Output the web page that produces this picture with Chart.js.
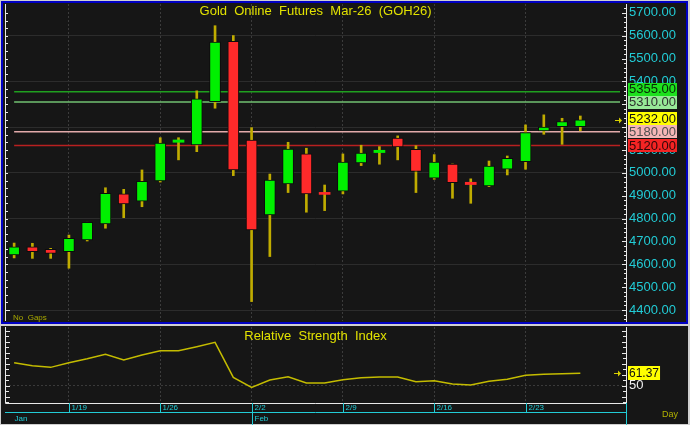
<!DOCTYPE html>
<html>
<head>
<meta charset="utf-8">
<script src="https://cdn.jsdelivr.net/npm/chart.js@4.4.1/dist/chart.umd.min.js"></script>
<style>
  html, body { margin: 0; padding: 0; background: #cfcfcf; }
  body { width: 690px; height: 425px; position: relative; overflow: hidden; }
  .panel { position: absolute; background: #161616; box-sizing: border-box; }
  #top { left: 1px; top: 1px; width: 687px; height: 323px; border: 2px solid #0000c4; }
  #bottom { left: 1px; top: 326px; width: 687px; height: 98px; }
  canvas { position: absolute; left: 0; }
</style>
</head>
<body>
<div class="panel" id="top"></div>
<div class="panel" id="bottom"></div>
<canvas id="priceChart" width="690" height="325" style="top:0"></canvas>
<canvas id="rsiChart" width="690" height="99" style="top:326px"></canvas>
<script>
const dates = ['1/14','1/15','1/16','1/19','1/20','1/21','1/22','1/23','1/26','1/27','1/28','1/29','1/30',
  '2/2','2/3','2/4','2/5','2/6','2/9','2/10','2/11','2/12','2/13','2/16','2/17','2/18','2/19','2/20',
  '2/23','2/24','2/25','2/26'];
const weekStarts = ['1/19','1/26','2/2','2/9','2/16','2/23'];
const months = ['Jan','Feb'];
const monthStarts = ['1/14','2/2'];

const open  = [4641,4677,4666,4655,4707,4777,4908,4876,4965,5134,5122,5312,5576,5144,4816,4952,5083,4910,4920,5044,5089,5152,5103,4977,5039,4959,4943,5016,5049,5184,5202,5202];
const high  = [4693,4692,4670,4728,4784,4935,4928,5013,5154,5154,5359,5644,5601,5198,4995,5134,5108,4947,5083,5121,5115,5162,5119,5080,5039,4974,5052,5074,5210,5254,5239,5249];
const low   = [4628,4626,4626,4583,4702,4758,4804,4852,4960,5057,5093,5283,4988,4437,4634,4914,4828,4835,4908,5032,5038,5057,4914,4972,4889,4867,4940,4991,5016,5169,5125,5184];
const close = [4677,4655,4648,4714,4784,4911,4864,4963,5130,5144,5324,5572,5013,4750,4969,5104,4908,4906,5047,5087,5099,5114,5006,5047,4957,4949,5030,5064,5176,5200,5224,5232];

const rsi = [70.9,68.2,66.7,70.9,74.5,78.5,73.4,77.9,81.8,81.8,85.5,89.5,57.6,48.5,55.2,58.2,52.5,52.5,55.5,
  57.3,57.9,57.9,53.6,54.5,51.5,50.6,54.0,55.8,59.5,60.4,60.9,61.37];

const priceTicks = [4400,4500,4600,4700,4800,4900,5000,5100,5200,5300,5400,5500,5600,5700];
const levels = [5355, 5310, 5180, 5120];
const lastPrice = 5232;
const rsiTicks = [50];
const lastRsi = 61.37;

// styles
const FONT = '"Liberation Sans", Arial, sans-serif';
const levelLine = ['#1f9f1f', '#72c272', '#e2aaaa', '#b82020'];
const levelTag = [['#1ee01e', '#062806'], ['#98e898', '#303030'], ['#f4b6b6', '#505050'], ['#f42424', '#300808']];
const UP = '#00f000', DOWN = '#ff2a2a', WICK = '#c0ac00', CYAN = '#22ccd6';

// two empty slots on the right, like the reference
const slots = dates.concat(['', '']);
const isUp = i => close[i] >= open[i];

function gridColor(ctx) {
  return weekStarts.includes(slots[ctx.index]) ? '#3c3c3c' : 'transparent';
}

// keep the chart area where the reference has it
function fixWidth(s) {
  s.width = 64;
  s.paddingTop = 0;
  s.paddingBottom = 0;
}

function tag(ctx, x, y, text, bg, fg) {
  ctx.font = '13px ' + FONT;
  const w = ctx.measureText(text).width + 2;
  ctx.fillStyle = bg;
  ctx.fillRect(x, Math.round(y - 6.5), w, 13);
  ctx.fillStyle = fg;
  ctx.textAlign = 'left';
  ctx.textBaseline = 'middle';
  ctx.fillText(text, x + 1, y + 0.5);
}

function arrow(ctx, x, y) {
  ctx.strokeStyle = '#d8d000';
  ctx.fillStyle = '#d8d000';
  ctx.lineWidth = 1;
  ctx.beginPath(); ctx.moveTo(x - 5, y + 0.5); ctx.lineTo(x, y + 0.5); ctx.stroke();
  ctx.beginPath(); ctx.moveTo(x + 2, y + 0.5); ctx.lineTo(x - 1, y - 2.5); ctx.lineTo(x - 1, y + 3.5); ctx.fill();
}

function sideTicks(ctx, scale, x, dir, from, to, step, major, big, small) {
  ctx.strokeStyle = '#e8e8e8';
  ctx.lineWidth = 1;
  ctx.beginPath();
  for (let v = from; v <= to + 0.001; v += step) {
    const y = Math.round(scale.getPixelForValue(v)) + 0.5;
    const len = Math.abs(v % major) < 0.01 ? big : small;
    ctx.moveTo(x, y); ctx.lineTo(x + dir * len, y);
  }
  ctx.stroke();
}

const pricePlugin = {
  id: 'pricePlugin',
  beforeDatasetsDraw(chart) {
    const { ctx, chartArea, scales } = chart;
    const x0 = scales.x.getPixelForValue(0);
    levels.forEach((v, i) => {
      const y = scales.y.getPixelForValue(v);
      ctx.strokeStyle = levelLine[i];
      ctx.lineWidth = 1.5;
      ctx.beginPath(); ctx.moveTo(x0, y); ctx.lineTo(chartArea.right - 6, y); ctx.stroke();
    });
  },
  afterDraw(chart) {
    const { ctx, chartArea, scales } = chart;
    const y = scales.y;
    ctx.save();
    // left frame line with ticks
    ctx.strokeStyle = '#e8e8e8';
    ctx.lineWidth = 1;
    ctx.beginPath(); ctx.moveTo(chartArea.left + 0.5, chartArea.top); ctx.lineTo(chartArea.left + 0.5, chartArea.bottom); ctx.stroke();
    sideTicks(ctx, y, chartArea.left + 1, 1, 4400, 5700, 100 / 3, 100, 4, 2);
    sideTicks(ctx, y, chartArea.right, -1, 4360, 5720, 20, 100, 4, 2);

    // title and footnote
    ctx.fillStyle = '#e2e200';
    ctx.font = '13px ' + FONT;
    ctx.textAlign = 'center';
    ctx.textBaseline = 'middle';
    ctx.fillText('Gold  Online  Futures  Mar-26  (GOH26)', (chartArea.left + chartArea.right) / 2, 11);
    ctx.fillStyle = '#a8a800';
    ctx.font = '8px ' + FONT;
    ctx.textAlign = 'left';
    ctx.fillText('No  Gaps', 13, 318);

    // price tags on the axis, stacked so they do not overlap
    const tags = levels.map((v, i) => ({ v, bg: levelTag[i][0], fg: levelTag[i][1] }));
    tags.push({ v: lastPrice, bg: '#ffff00', fg: '#101010' });
    tags.sort((a, b) => a.v - b.v);
    let prev = Infinity;
    tags.forEach(t => {
      let py = Math.min(y.getPixelForValue(t.v), prev - 13);
      prev = py;
      tag(ctx, chartArea.right + 2, py, t.v.toFixed(2), t.bg, t.fg);
    });
    arrow(ctx, chartArea.right - 6, Math.round(y.getPixelForValue(lastPrice)));
    ctx.restore();
  }
};

new Chart(document.getElementById('priceChart'), {
  type: 'bar',
  data: {
    labels: slots,
    datasets: [
      {
        label: 'body',
        data: dates.map((d, i) => [open[i], close[i]]),
        backgroundColor: c => isUp(c.dataIndex) ? UP : DOWN,
        borderColor: '#0c0c0c',
        borderWidth: c => Math.abs(close[c.dataIndex] - open[c.dataIndex]) < 15 ? 0 : 1,
        barThickness: 11,
        minBarLength: 2,
        grouped: false,
        borderSkipped: false,
        order: 0
      },
      {
        label: 'wick',
        data: dates.map((d, i) => [low[i], high[i]]),
        backgroundColor: WICK,
        barThickness: 2,
        grouped: false,
        borderSkipped: false,
        order: 1
      }
    ]
  },
  options: {
    responsive: false,
    animation: false,
    layout: { padding: { left: 5, top: 4, bottom: 4, right: 0 } },
    plugins: { legend: { display: false }, tooltip: { enabled: false } },
    scales: {
      x: {
        ticks: { display: false },
        grid: { offset: false, drawTicks: false, color: gridColor },
        border: { display: false, dash: [2, 2] },
        afterFit: s => { s.height = 0; }
      },
      y: {
        position: 'right',
        min: 4352,
        max: 5739,
        afterBuildTicks: s => { s.ticks = priceTicks.map(v => ({ value: v })); },
        afterFit: fixWidth,
        ticks: { color: CYAN, font: { family: FONT, size: 13 }, padding: 3, callback: v => v.toFixed(2) },
        grid: { drawTicks: false, color: c => c.tick && c.tick.value % 200 === 0 ? '#2c2c2c' : 'transparent' },
        border: { color: '#e8e8e8' }
      }
    }
  },
  plugins: [pricePlugin]
});

const rsiPlugin = {
  id: 'rsiPlugin',
  afterDraw(chart) {
    const { ctx, chartArea, scales } = chart;
    const L = chartArea.left, R = chartArea.right, B = chartArea.bottom;
    ctx.save();
    ctx.strokeStyle = '#e8e8e8';
    ctx.lineWidth = 1;
    ctx.beginPath();
    ctx.moveTo(L + 0.5, chartArea.top); ctx.lineTo(L + 0.5, B + 0.5); ctx.lineTo(R, B + 0.5);
    ctx.stroke();
    sideTicks(ctx, scales.y, L + 1, 1, 35, 100, 5, 10, 4, 3);
    sideTicks(ctx, scales.y, R, -1, 35, 100, 5, 10, 4, 3);

    ctx.fillStyle = '#e2e200';
    ctx.font = '13px ' + FONT;
    ctx.textAlign = 'center';
    ctx.textBaseline = 'middle';
    ctx.fillText('Relative  Strength  Index', (L + R) / 2, 10);

    // last value tag
    const ly = Math.round(scales.y.getPixelForValue(lastRsi));
    ctx.font = '12px ' + FONT;
    const w = ctx.measureText(lastRsi.toFixed(2)).width;
    ctx.fillStyle = '#ffff00';
    ctx.fillRect(R + 2, ly - 7, w + 2, 14);
    ctx.fillStyle = '#101010';
    ctx.textAlign = 'left';
    ctx.fillText(lastRsi.toFixed(2), R + 3, ly + 0.5);
    arrow(ctx, R - 7, ly);

    // date axis
    const axisY = B + 9.5;
    ctx.strokeStyle = CYAN;
    ctx.beginPath();
    ctx.moveTo(L, axisY); ctx.lineTo(R, axisY);
    ctx.moveTo(R + 0.5, B); ctx.lineTo(R + 0.5, chart.height);
    ctx.stroke();
    ctx.font = '8px ' + FONT;
    ctx.fillStyle = CYAN;
    weekStarts.forEach(d => {
      const x = Math.round(scales.x.getPixelForValue(dates.indexOf(d))) + 0.5;
      ctx.beginPath(); ctx.moveTo(x, B); ctx.lineTo(x, axisY); ctx.stroke();
      ctx.fillText(d, x + 2, B + 5);
    });
    months.forEach((m, i) => {
      const idx = dates.indexOf(monthStarts[i]);
      const x = Math.round(scales.x.getPixelForValue(idx)) + 0.5;
      if (idx > 0) {
        ctx.beginPath(); ctx.moveTo(x, axisY); ctx.lineTo(x, chart.height); ctx.stroke();
      }
      ctx.fillText(m, x + (idx > 0 ? 2 : 0), B + 16);
    });
    ctx.fillStyle = '#b0b000';
    ctx.font = '9px ' + FONT;
    ctx.fillText('Day', 662, B + 12);
    ctx.restore();
  }
};

new Chart(document.getElementById('rsiChart'), {
  type: 'line',
  data: {
    labels: slots,
    datasets: [{ label: 'RSI', data: rsi, borderColor: '#c4bc00', borderWidth: 1.5, pointRadius: 0, tension: 0 }]
  },
  options: {
    responsive: false,
    animation: false,
    layout: { padding: { left: 5, top: 1, bottom: 22, right: 0 } },
    plugins: { legend: { display: false }, tooltip: { enabled: false } },
    scales: {
      x: {
        offset: true,
        ticks: { display: false },
        grid: { offset: false, drawTicks: false, color: gridColor },
        border: { display: false, dash: [2, 2] },
        afterFit: s => { s.height = 0; }
      },
      y: {
        position: 'right',
        min: 34.3,
        max: 103.4,
        afterBuildTicks: s => { s.ticks = rsiTicks.map(v => ({ value: v })); },
        afterFit: fixWidth,
        ticks: { color: '#f0f0f0', font: { family: FONT, size: 13 }, padding: 3 },
        grid: { drawTicks: false, color: '#3a3a3a' },
        border: { color: '#e8e8e8', dash: [2, 2] }
      }
    }
  },
  plugins: [rsiPlugin]
});
</script>
</body>
</html>
